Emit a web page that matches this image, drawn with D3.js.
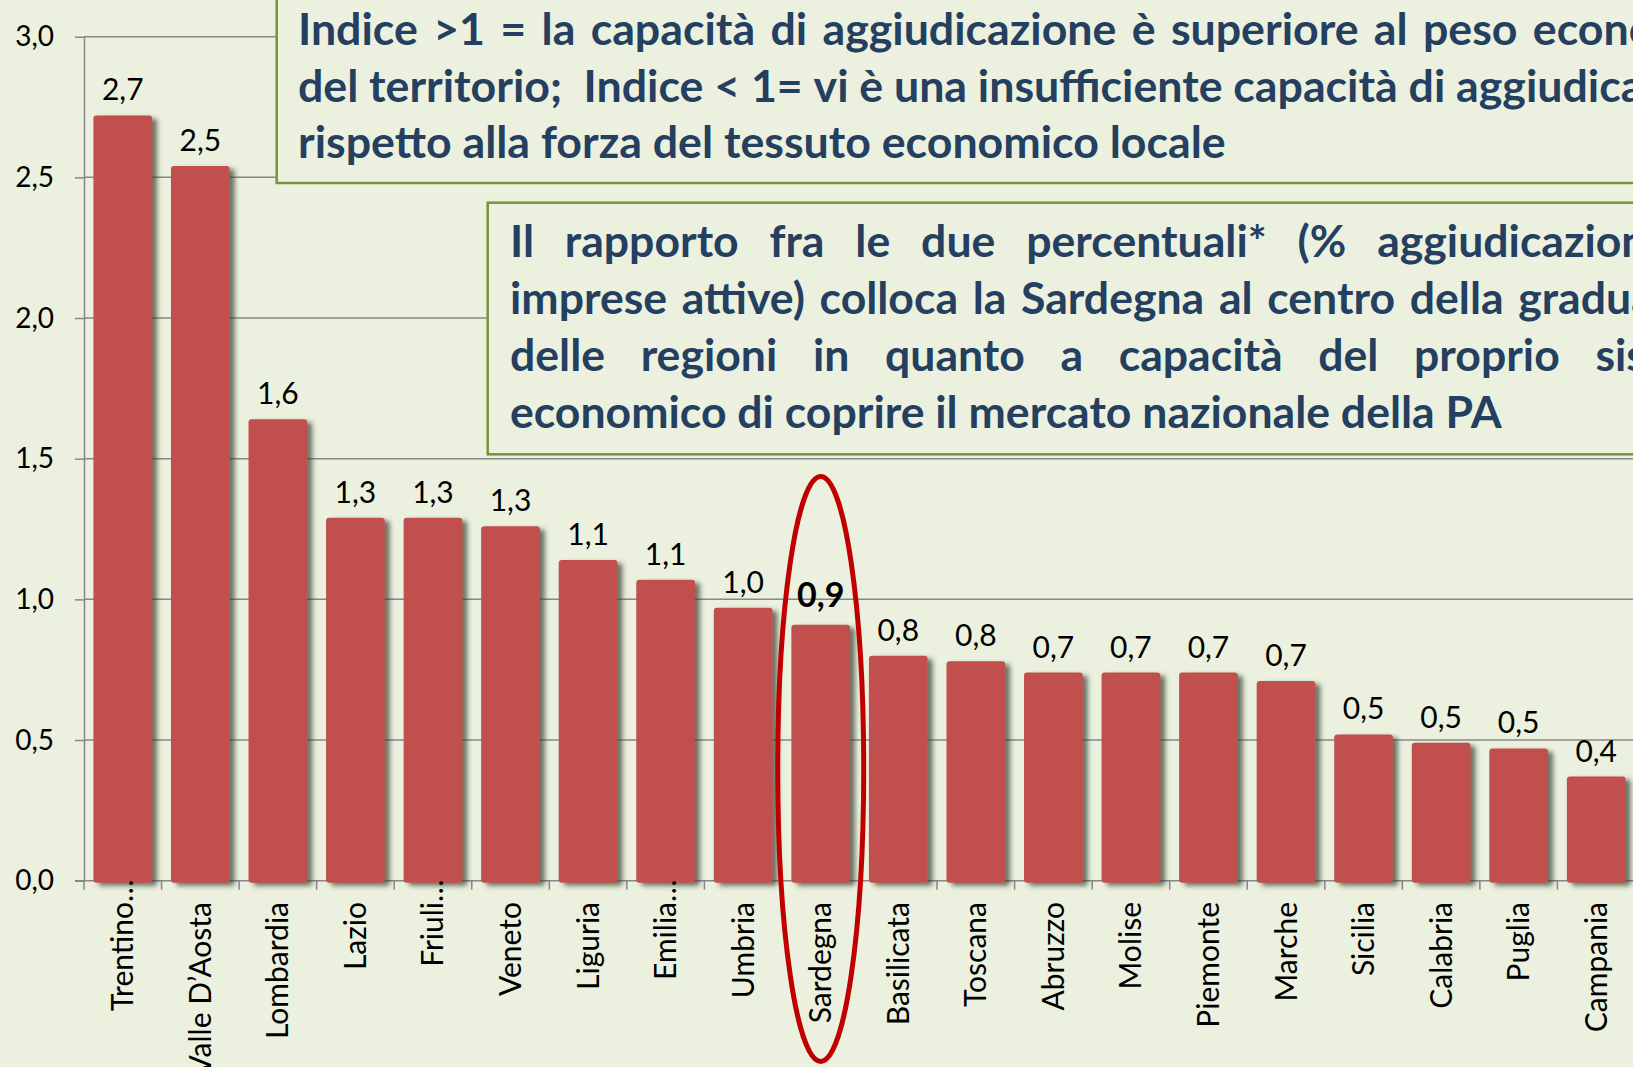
<!DOCTYPE html>
<html>
<head>
<meta charset="utf-8">
<script src="https://cdn.jsdelivr.net/npm/d3@7"></script>
<style>
  body { margin: 0; background: #ebf1de; overflow: hidden; }
  svg { display: block; font-family: Lato, "Open Sans", sans-serif; }
</style>
</head>
<body>
<div id="chart"></div>
<script>
// data
const regions = ["Trentino…", "Valle D’Aosta", "Lombardia", "Lazio", "Friuli…", "Veneto", "Liguria", "Emilia…",
  "Umbria", "Sardegna", "Basilicata", "Toscana", "Abruzzo", "Molise", "Piemonte", "Marche",
  "Sicilia", "Calabria", "Puglia", "Campania"];
const indice = [2.72, 2.54, 1.64, 1.29, 1.29, 1.26, 1.14, 1.07, 0.97, 0.91, 0.80, 0.78, 0.74, 0.74, 0.74, 0.71,
  0.52, 0.49, 0.47, 0.37];
const yTicks = [0, 0.5, 1, 1.5, 2, 2.5, 3];
const highlight = "Sardegna";

const note1 = [
  "Indice >1 = la capacità di aggiudicazione è superiore al peso economico",
  "del territorio;  Indice < 1= vi è una insufficiente capacità di aggiudicazione",
  "rispetto alla forza del tessuto economico locale"
];
const note2 = [
  "Il rapporto fra le due percentuali* (% aggiudicazioni /%",
  "imprese attive) colloca la Sardegna al centro della graduatoria",
  "delle regioni in quanto a capacità del proprio sistema",
  "economico di coprire il mercato nazionale della PA"
];

const width = 1633, height = 1067;
const barColor = "#c0504d", gridColor = "#878787";
const fmt = d3.formatLocale({decimal: ",", thousands: ".", grouping: [3], currency: ["", "€"]}).format(".1f");

const svg = d3.select("#chart").append("svg")
  .attr("width", width)
  .attr("height", height);

// drop shadow for bars
const filter = svg.append("defs").append("filter")
  .attr("id", "shadow")
  .attr("x", "-20%").attr("y", "-5%")
  .attr("width", "160%").attr("height", "120%");
filter.append("feDropShadow")
  .attr("dx", 5).attr("dy", 3)
  .attr("stdDeviation", 2.8)
  .attr("flood-color", "#353a2e")
  .attr("flood-opacity", 0.7);

const x = d3.scaleBand()
  .domain(regions)
  .range([84, 1635])
  .paddingInner(0.243)
  .paddingOuter(0.1215);

const y = d3.scaleLinear()
  .domain([0, 3])
  .range([880.7, 36.7]);

// gridlines
svg.append("g")
  .selectAll("line")
  .data(yTicks.filter(d => d > 0))
  .join("line")
  .attr("x1", 84).attr("x2", width)
  .attr("y1", d => y(d)).attr("y2", d => y(d))
  .attr("stroke", gridColor)
  .attr("stroke-width", 1.5);

// y axis
const yAxis = svg.append("g")
  .attr("transform", "translate(84,0)")
  .call(d3.axisLeft(y).tickValues(yTicks).tickSize(9).tickSizeOuter(0).tickPadding(21).tickFormat(fmt));
yAxis.selectAll("path, line").attr("stroke", gridColor).attr("stroke-width", 1.5);
yAxis.selectAll("text")
  .attr("fill", "#000")
  .style("font-size", "28px")
  .style("font-family", "Lato, sans-serif");

// x axis line + ticks at category boundaries
const half = (x.step() - x.bandwidth()) / 2;
const bounds = regions.map(d => x(d) - half).concat([x(regions[regions.length - 1]) + x.bandwidth() + half]);
svg.append("line")
  .attr("x1", 75).attr("x2", width)
  .attr("y1", y(0)).attr("y2", y(0))
  .attr("stroke", gridColor).attr("stroke-width", 1.5);
svg.append("g")
  .selectAll("line")
  .data(bounds)
  .join("line")
  .attr("x1", d => d).attr("x2", d => d)
  .attr("y1", y(0)).attr("y2", y(0) + 9)
  .attr("stroke", gridColor).attr("stroke-width", 1.5);

// bars
svg.append("g")
  .selectAll("rect")
  .data(regions)
  .join("rect")
  .attr("x", d => x(d))
  .attr("y", (d, i) => y(indice[i]))
  .attr("width", x.bandwidth())
  .attr("height", (d, i) => y(0) - y(indice[i]) + 2)
  .attr("rx", 3)
  .attr("fill", barColor)
  .attr("filter", "url(#shadow)");

// value labels
svg.append("g")
  .selectAll("text")
  .data(regions)
  .join("text")
  .attr("x", d => x(d) + x.bandwidth() / 2)
  .attr("y", (d, i) => y(indice[i]) - (d === highlight ? 18 : 15))
  .attr("text-anchor", "middle")
  .attr("fill", "#000")
  .style("font-size", d => d === highlight ? "34px" : "30px")
  .style("font-weight", d => d === highlight ? "bold" : "normal")
  .text((d, i) => fmt(indice[i]));

// category labels (rotated)
function textWidth(g, str) {
  let t = g.append("text").text(str);
  let w = t.node().getComputedTextLength();
  t.remove();
  return w;
}
const catG = svg.append("g").style("font-size", "30px").attr("fill", "#000");
const ellW = textWidth(catG, "…");
catG.selectAll("text")
  .data(regions)
  .join("text")
  .attr("transform", d => `translate(${x(d) + x.bandwidth() / 2},902) rotate(-90)`)
  .attr("x", d => d.endsWith("…") ? ellW : 0)
  .attr("dy", "0.35em")
  .attr("text-anchor", "end")
  .text(d => d);

// highlight ellipse around Sardegna
svg.append("ellipse")
  .attr("cx", x(highlight) + x.bandwidth() / 2)
  .attr("cy", 769)
  .attr("rx", 43)
  .attr("ry", 292.5)
  .attr("fill", "none")
  .attr("stroke", "#c00000")
  .attr("stroke-width", 5);

// text boxes
function drawNote(o) {
  let g = svg.append("g");
  g.append("rect")
    .attr("x", o.box[0]).attr("y", o.box[1])
    .attr("width", o.box[2]).attr("height", o.box[3])
    .attr("fill", "#ebf1de")
    .attr("stroke", "#77933c")
    .attr("stroke-width", 2.5);

  let tg = g.append("g")
    .attr("fill", "#243f60")
    .style("font-size", o.size + "px")
    .style("font-weight", "bold");

  let spaceW = textWidth(tg, "a a") - 2 * textWidth(tg, "a");
  let natural = s => {
    let ws = s.split(" ");
    return d3.sum(ws, w => textWidth(tg, w)) + spaceW * (ws.length - 1);
  };
  let sx = o.fitWidth / natural(o.lines[o.fitLine]);
  tg.attr("transform", `translate(${o.x0},0) scale(${sx},1)`);

  o.lines.forEach((line, i) => {
    let words = line.split(" ");
    let widths = words.map(w => textWidth(tg, w));
    let gap = o.justify[i] ? (o.lineWidth / sx - d3.sum(widths)) / (words.length - 1) : spaceW;
    let t = tg.append("text").attr("y", o.y0 + i * o.lineGap);
    let cx = 0;
    words.forEach((w, j) => {
      t.append("tspan").attr("x", cx).text(w);
      cx += widths[j] + gap;
    });
  });
}

drawNote({
  box: [276.7, -10, 1500, 193],
  x0: 298, y0: 45, lineGap: 56.7, size: 43,
  lines: note1, justify: [true, true, false],
  fitLine: 2, fitWidth: 928, lineWidth: 1452
});

drawNote({
  box: [487.7, 202.7, 1300, 251.6],
  x0: 510, y0: 256.7, lineGap: 57.2, size: 43,
  lines: note2, justify: [true, true, true, false],
  fitLine: 3, fitWidth: 992, lineWidth: 1236
});
</script>
</body>
</html>
